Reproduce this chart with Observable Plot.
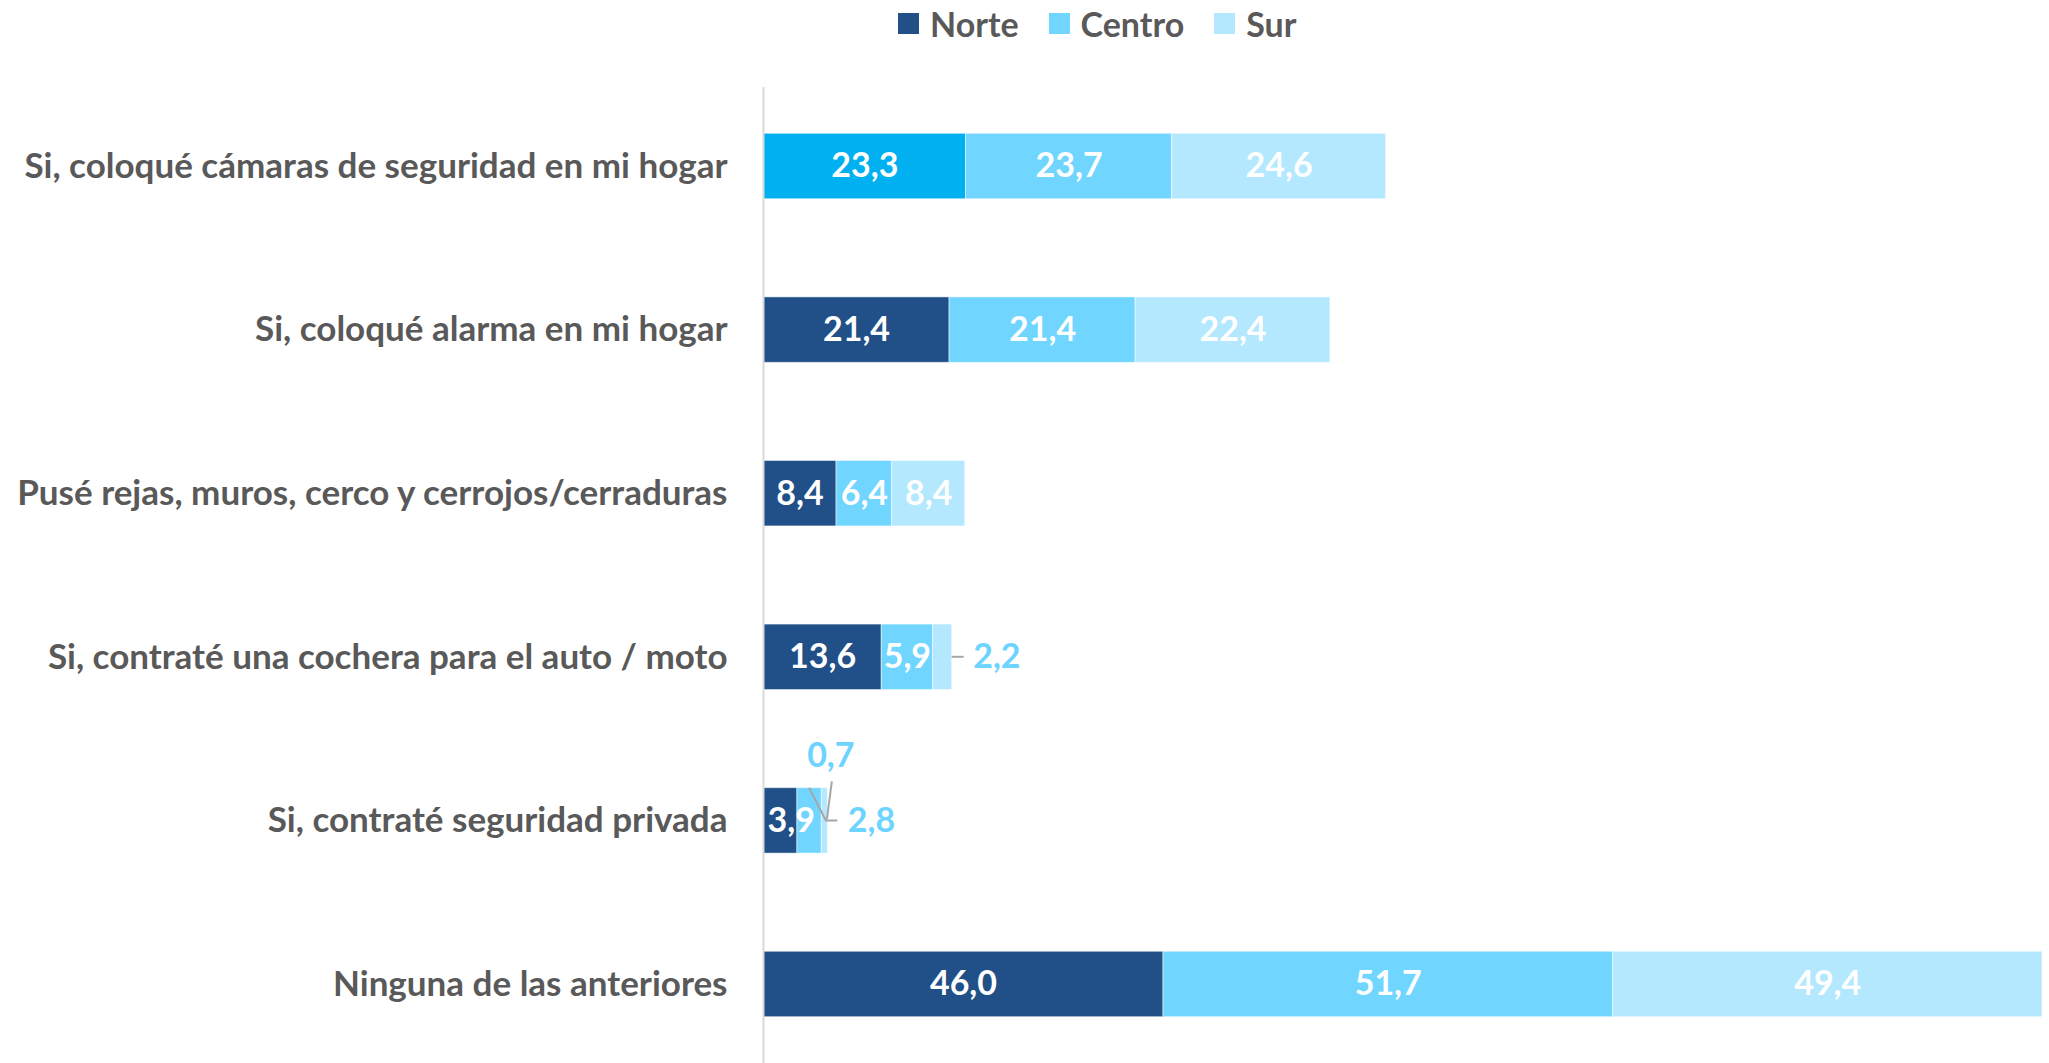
<!DOCTYPE html>
<html>
<head>
<meta charset="utf-8">
<script src="https://cdn.jsdelivr.net/npm/d3@7"></script>
<script src="https://cdn.jsdelivr.net/npm/@observablehq/plot@0.6"></script>
<style>
  html, body { margin: 0; padding: 0; background: #fff; }
  body { width: 2049px; height: 1063px; overflow: hidden; font-family: Lato, "Open Sans", sans-serif; }
  #legend { height: 47px; display: flex; align-items: center; padding-left: 898px; box-sizing: border-box;
            font-size: 34px; font-weight: bold; color: #595959; }
  .item { display: flex; align-items: center; margin-right: 30px; }
  .sw { width: 21px; height: 21px; margin-right: 11px; }
</style>
</head>
<body>
<div id="legend"></div>
<div id="chart"></div>
<script>
const categories = [
  "Si, coloqué cámaras de seguridad en mi hogar",
  "Si, coloqué alarma en mi hogar",
  "Pusé rejas, muros, cerco y cerrojos/cerraduras",
  "Si, contraté una cochera para el auto / moto",
  "Si, contraté seguridad privada",
  "Ninguna de las anteriores"
];
const regions = ["Norte", "Centro", "Sur"];
const norte  = [23.3, 21.4, 8.4, 13.6, 3.9, 46.0];
const centro = [23.7, 21.4, 6.4, 5.9, 2.8, 51.7];
const sur    = [24.6, 22.4, 8.4, 2.2, 0.7, 49.4];

const colors = {Norte: "#205087", Centro: "#70D5FF", Sur: "#B3E8FE"};
const highlight = "#00B0F0"; // first Norte bar colour in the reference
const outsideColor = "#6DD3FF";

// legend
const legend = d3.select("#legend");
regions.forEach(r => {
  const it = legend.append("div").attr("class", "item");
  it.append("div").attr("class", "sw").style("background", colors[r]);
  it.append("span").text(r);
});

// build segments table
const series = [norte, centro, sur];
const rows = [];
categories.forEach((cat, i) => {
  let acc = 0;
  regions.forEach((r, k) => {
    const v = series[k][i];
    rows.push({cat, i, region: r, value: v, x1: acc, x2: acc + v, total: norte[i] + centro[i] + sur[i],
               fill: (i === 0 && r === "Norte") ? highlight : colors[r]});
    acc += v;
  });
});
const fmt = v => v.toFixed(1).replace(".", ",");
const xMax = d3.max(categories, (c, i) => norte[i] + centro[i] + sur[i]);

const inside = rows.filter(d => d.value >= 3);
const insideCentered = inside.filter(d => d.value >= 5);
const insideStart = inside.filter(d => d.value < 5);
const outside = rows.filter(d => d.value < 3);

// leader lines drawn through Plot's scales
function leaders(index, scales) {
  const x = scales.x, y = scales.y;
  const bw = typeof y.bandwidth === "function" ? y.bandwidth() : (y(categories[1]) - y(categories[0])) * 0.4;
  const g = d3.create("svg:g").attr("fill", "none").attr("stroke", "#A6A6A6").attr("stroke-width", 2);
  {
    const i = 3, end = x(norte[i] + centro[i] + sur[i]), yc = y(categories[i]) + bw / 2;
    g.append("path").attr("d", `M${end},${yc}H${end + 12}`);
  }
  {
    const i = 4, end = x(norte[i] + centro[i] + sur[i]), yc = y(categories[i]) + bw / 2, top = y(categories[i]);
    const cMid = x(norte[i] + centro[i] / 2);
    g.append("path").attr("d", `M${end + 10},${yc}H${end - 1.5}L${cMid},${top}`);
    g.append("path").attr("d", `M${end + 4.5},${yc - 39}L${end - 0.5},${yc - 1}`);
  }
  return g.node();
}

const FS = 34;
const chart = Plot.plot({
  width: 2049,
  height: 1016,
  marginTop: 40,
  marginBottom: 0,
  marginLeft: 763,
  marginRight: 7,
  style: {fontFamily: "Lato, 'Open Sans', sans-serif", background: "#fff", overflow: "visible"},
  x: {domain: [0, xMax], axis: null},
  y: {domain: categories, paddingInner: 0.6, paddingOuter: 0.283, round: false, label: null},
  color: {type: "identity"},
  marks: [
    Plot.axisY({tickSize: 0, tickPadding: 36, fontSize: 35, fontWeight: "bold", fill: "#595959", label: null}),
    Plot.barX(rows, {x1: "x1", x2: "x2", y: "cat", fill: "fill", stroke: "#ffffff", strokeOpacity: 0.5, strokeWidth: 1}),
    Plot.ruleX([0], {stroke: "#D9D9D9", strokeWidth: 2}),
    Plot.text(insideCentered, {x: d => (d.x1 + d.x2) / 2, y: "cat", text: d => fmt(d.value),
      fill: "#ffffff", fontSize: FS, fontWeight: "bold"}),
    Plot.text(insideStart, {x: "x1", y: "cat", text: d => fmt(d.value), textAnchor: "start", dx: 4,
      fill: "#ffffff", fontSize: FS, fontWeight: "bold"}),
    Plot.text(outside.filter(d => d.i === 3), {x: "total", y: "cat", text: d => fmt(d.value), textAnchor: "start", dx: 21,
      fill: outsideColor, fontSize: FS, fontWeight: "bold"}),
    Plot.text(outside.filter(d => d.i === 4 && d.region === "Centro"), {x: "total", y: "cat", text: d => fmt(d.value), textAnchor: "start", dx: 20,
      fill: outsideColor, fontSize: FS, fontWeight: "bold"}),
    Plot.text(outside.filter(d => d.i === 4 && d.region === "Sur"), {x: "total", y: "cat", text: d => fmt(d.value), dx: 3, dy: -65,
      fill: outsideColor, fontSize: FS, fontWeight: "bold"}),
    leaders
  ]
});
document.getElementById("chart").appendChild(chart);
</script>
</body>
</html>
